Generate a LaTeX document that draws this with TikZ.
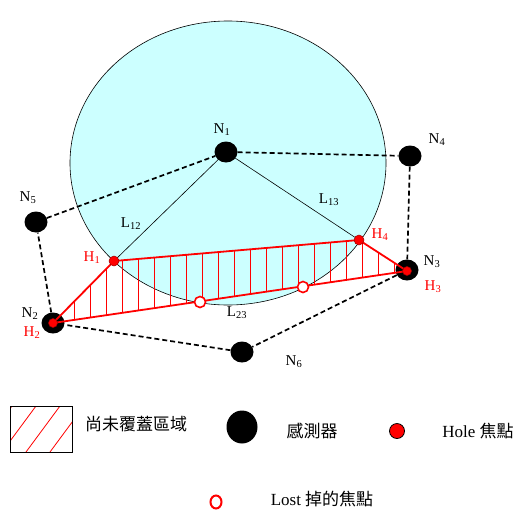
\documentclass[tikz,border=0pt]{standalone}
\usepackage{fontspec}
\setmainfont{Liberation Serif}
\newfontfamily\cjk{Noto Sans CJK TC}
\usetikzlibrary{shapes.geometric}
\definecolor{lightcyan}{RGB}{204,255,255}
\begin{document}
\begin{tikzpicture}[x=1pt, y=-1pt, >=stealth,
	font=\fontsize{15}{18}\selectfont,
	sensor/.style={ellipse, fill=black, inner sep=0pt, minimum width=23pt, minimum height=21pt},
	hole/.style={circle, fill=red, draw=red!60!black, line width=0.5pt, inner sep=0pt, minimum size=10pt},
	lost/.style={circle, draw=red, fill=white, line width=1.6pt, inner sep=0pt, minimum size=11pt},
	link/.style={black, dash pattern=on 5pt off 3pt, line width=1.7pt},
	edge/.style={red, line width=1.8pt},
	hlabel/.style={red}]
	\useasboundingbox (0,0) rectangle (516,512);
	% covered area of N1
	\draw[fill=lightcyan, line width=0.6pt] (228,163) ellipse [x radius=158, y radius=142];
	% hole corners
	\coordinate (h1) at (114,261);
	\coordinate (h4) at (359,240);
	\coordinate (h3) at (407,271);
	\coordinate (h2) at (53,323);
	% hatching of the hole
	\begin{scope}
		\clip (h1) -- (h4) -- (h3) -- (h2) -- cycle;
		\foreach \x in {58,74,...,410}
			\draw[red, line width=0.7pt] (\x,200) -- (\x,340);
	\end{scope}
	% sensors
	\node[sensor] (N1) at (226,152) {};
	\node[sensor] (N2) at (53,323) {};
	\node[sensor] (N3) at (407,270) {};
	\node[sensor] (N4) at (410,156) {};
	\node[sensor] (N5) at (36,222) {};
	\node[sensor] (N6) at (242,352) {};
	% neighbour links
	\draw[link] (N5) -- (N1) -- (N4) -- (N3) -- (N6) -- (N2) -- (N5);
	\draw[line width=0.6pt] (N1.center) -- (h1);
	\draw[line width=0.6pt] (N1.center) -- (h4);
	% hole boundary
	\draw[edge] (h1) -- (h4) -- (h3) -- (h2) -- cycle;
	\node[hole] (H1) at (h1) {};
	\node[hole] (H4) at (h4) {};
	\node[hole, minimum size=9pt] (H2) at (h2) {};
	\node[hole, minimum size=9pt] (H3) at (h3) {};
	\node[lost] (P1) at (200,302) {};
	\node[lost] (P2) at (303,287) {};
	% labels
	\node (lN1) at (222,130) {N\textsubscript{1}};
	\node (lN2) at (30,314) {N\textsubscript{2}};
	\node (lN3) at (432,262) {N\textsubscript{3}};
	\node (lN4) at (437,140) {N\textsubscript{4}};
	\node (lN5) at (28,198) {N\textsubscript{5}};
	\node (lN6) at (294,362) {N\textsubscript{6}};
	\node[hlabel] (lH1) at (92,258) {H\textsubscript{1}};
	\node[hlabel] (lH2) at (32,333) {H\textsubscript{2}};
	\node[hlabel] (lH3) at (433,287) {H\textsubscript{3}};
	\node[hlabel] (lH4) at (380,235) {H\textsubscript{4}};
	\node (lL12) at (131,224) {L\textsubscript{12}};
	\node (lL13) at (329,200) {L\textsubscript{13}};
	\node (lL23) at (237,313) {L\textsubscript{23}};
	% legend
	\begin{scope}
		\clip (10,406) rectangle (72,452);
		\foreach \x in {-22,2,26,50,74}
			\draw[red, line width=0.8pt] (\x,452) -- (\x+34,406);
	\end{scope}
	\draw[line width=0.8pt] (10,406) rectangle (72,452);
	\node (kHole) at (136,424) {\fontsize{17}{20}\selectfont\cjk 尚未覆蓋區域};
	\node[ellipse, fill=black, inner sep=0pt, minimum width=31pt, minimum height=33pt] (kSensor) at (242,427) {};
	\node (tSensor) at (312,431) {\fontsize{17}{20}\selectfont\cjk 感測器};
	\node[circle, fill=red, draw=black, line width=0.8pt, inner sep=0pt, minimum width=12pt, minimum height=15pt] (kFocus) at (397,431) {};
	\node (tFocus) at (478,431) {\fontsize{17}{20}\selectfont Hole {\cjk 焦點}};
	\node[ellipse, draw=red, line width=2pt, inner sep=0pt, minimum width=11pt, minimum height=13pt] (kLost) at (216,502) {};
	\node (tLost) at (322,499) {\fontsize{17}{20}\selectfont Lost {\cjk 掉的焦點}};
\end{tikzpicture}
\end{document}
